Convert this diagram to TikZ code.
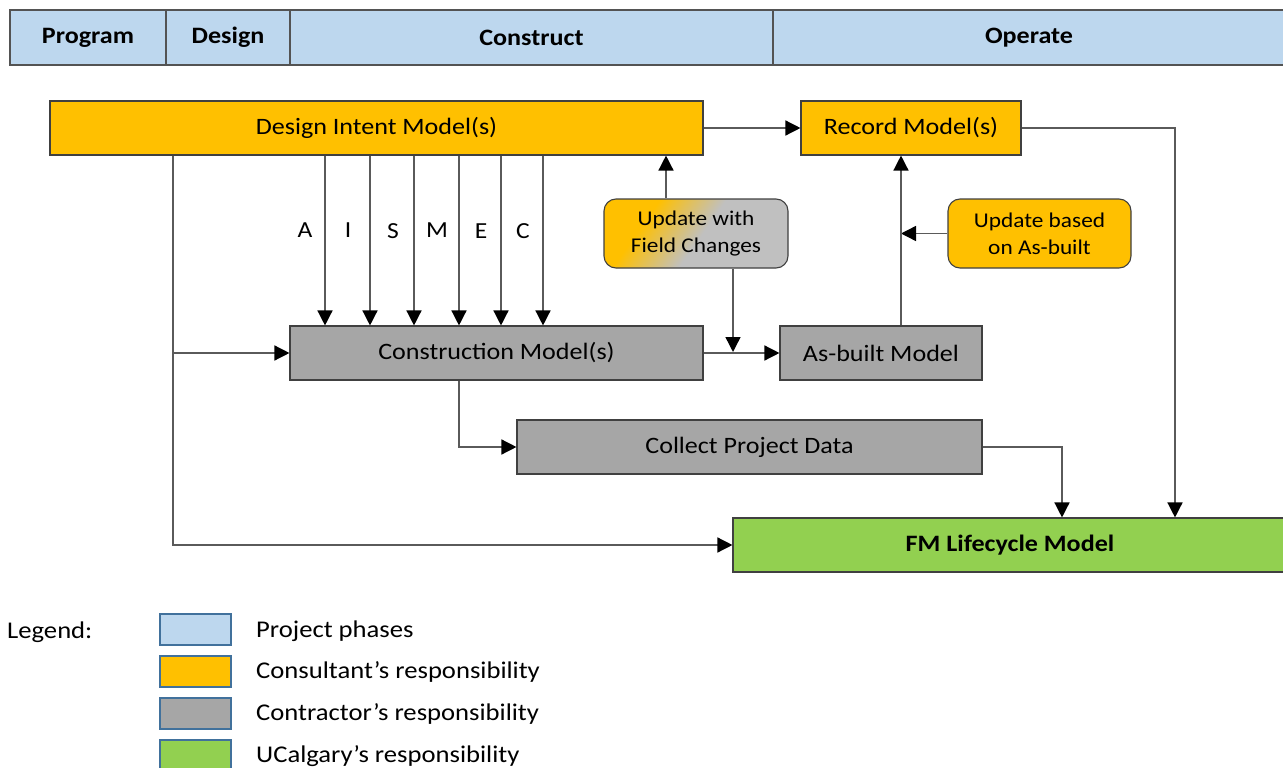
\documentclass[tikz,border=0pt]{standalone}
\usepackage{fontspec}
\setmainfont{Carlito}[FakeStretch=1.11]
\usetikzlibrary{arrows.meta}
\definecolor{hdr}{HTML}{BDD7EE}
\definecolor{orng}{HTML}{FFC000}
\definecolor{gry}{HTML}{A6A6A6}
\definecolor{lgry}{HTML}{C0C0C0}
\definecolor{grn}{HTML}{92D050}
\definecolor{lgd}{HTML}{41719C}
\definecolor{edge}{HTML}{404040}
\definecolor{wire}{HTML}{5A5A5A}
\pgfdeclarehorizontalshading{fcshade}{100bp}{color(0bp)=(orng); color(25bp)=(orng); color(32bp)=(orng); color(52bp)=(lgry); color(75bp)=(lgry); color(100bp)=(lgry)}
\tikzset{
  txt/.style={font=\fontsize{23.5}{28}\selectfont, text=black},
  box/.style={txt, draw=edge, line width=1.1pt, inner sep=0pt, minimum height=54pt},
  hcell/.style={box, fill=hdr, font=\fontsize{23.5}{28}\selectfont\bfseries, minimum height=55pt, draw=edge!90},
  obox/.style={box, fill=orng},
  gbox/.style={box, fill=gry},
  rbox/.style={box, rounded corners=12pt, minimum height=69pt, minimum width=184pt, align=center, font=\fontsize{21}{27}\selectfont},
  conn/.style={draw=wire, line width=1.4pt},
  arr/.style={conn, -{Triangle[length=15pt,width=15pt,color=black]}},
  swatch/.style={draw=lgd, line width=2pt},
  lbl/.style={txt, anchor=west, inner sep=0pt, font=\fontsize{24}{28}\selectfont},
  disc/.style={txt, font=\fontsize{23}{27}\selectfont},
}
\begin{document}
\begin{tikzpicture}[x=1pt,y=-1pt]
\useasboundingbox (0,0) rectangle (1283,768);
% header
\node[hcell, minimum width=156pt] (hp) at (88,37.5) {Program};
\node[hcell, minimum width=124pt] (hd) at (228,37.5) {Design};
\node[hcell, minimum width=483pt] (hc) at (531.5,37.5) {Construct};
\node[hcell, minimum width=512pt] (ho) at (1029,37.5) {Operate};
% boxes
\node[obox, minimum width=653pt] (dim) at (376.5,128) {Design Intent Model(s)};
\node[obox, minimum width=220pt] (rec) at (911,128) {Record Model(s)};
\node[rbox, draw=edge, shade, shading=fcshade, shading angle=-35] (ufc) at (696,233.5) {Update with\\Field Changes};
\node[rbox, fill=orng, minimum width=183pt] (uba) at (1039.5,233.5) {Update based\\on As-built};
\node[gbox, minimum width=413pt] (con) at (496.5,353) {Construction Model(s)};
\node[gbox, minimum width=202pt] (ab) at (881,353) {As-built Model};
\node[gbox, minimum width=465pt] (cpd) at (749.5,447) {Collect Project Data};
\node[box, fill=grn, minimum width=554pt, font=\fontsize{23.5}{28}\selectfont\bfseries] (fm) at (1010,545) {FM Lifecycle Model};
\coordinate (j) at (733,352);
% connectors
\draw[arr] (dim) -- (rec);
\draw[arr] (rec.east) -| (1175,0 |- fm.north);
\draw[arr] (666,0 |- ufc.north) -- (666,0 |- dim.south);
\draw[arr] (733,0 |- ufc.south) -- (j);
\draw[arr] (uba.west) -- (901,0 |- uba.west);
\draw[arr] (901,0 |- ab.north) -- (901,0 |- rec.south);
\draw[arr] (con) -- (ab);
\draw[arr] (173,0 |- dim.south) |- (fm.west);
\draw[arr] (173,0 |- con.west) -- (con.west);
\foreach \x in {325,370,414,459,501,543} {
  \draw[arr] (\x,0 |- dim.south) -- (\x,0 |- con.north);
}
\draw[arr] (459,0 |- con.south) |- (cpd.west);
\draw[arr] (cpd.east) -| (1062,0 |- fm.north);
% discipline labels
\node[disc] (la) at (305,230) {A};
\node[disc] (li) at (348,230) {I};
\node[disc] (ls) at (393,231) {S};
\node[disc] (lm) at (437,230) {M};
\node[disc] (le) at (481,231) {E};
\node[disc] (lc) at (523,231) {C};
% legend
\node[lbl] (lg) at (7,632) {Legend:};
\draw[swatch, fill=hdr] (160,614) rectangle (231,645);
\draw[swatch, fill=orng] (160,656) rectangle (231,687);
\draw[swatch, fill=gry] (160,698) rectangle (231,729);
\draw[swatch, fill=grn] (160,740) rectangle (231,771);
\node[lbl] (l1) at (256,631) {Project phases};
\node[lbl] (l2) at (256,672) {Consultant’s responsibility};
\node[lbl] (l3) at (256,714) {Contractor’s responsibility};
\node[lbl] (l4) at (256,756) {UCalgary’s responsibility};
\end{tikzpicture}
\end{document}
